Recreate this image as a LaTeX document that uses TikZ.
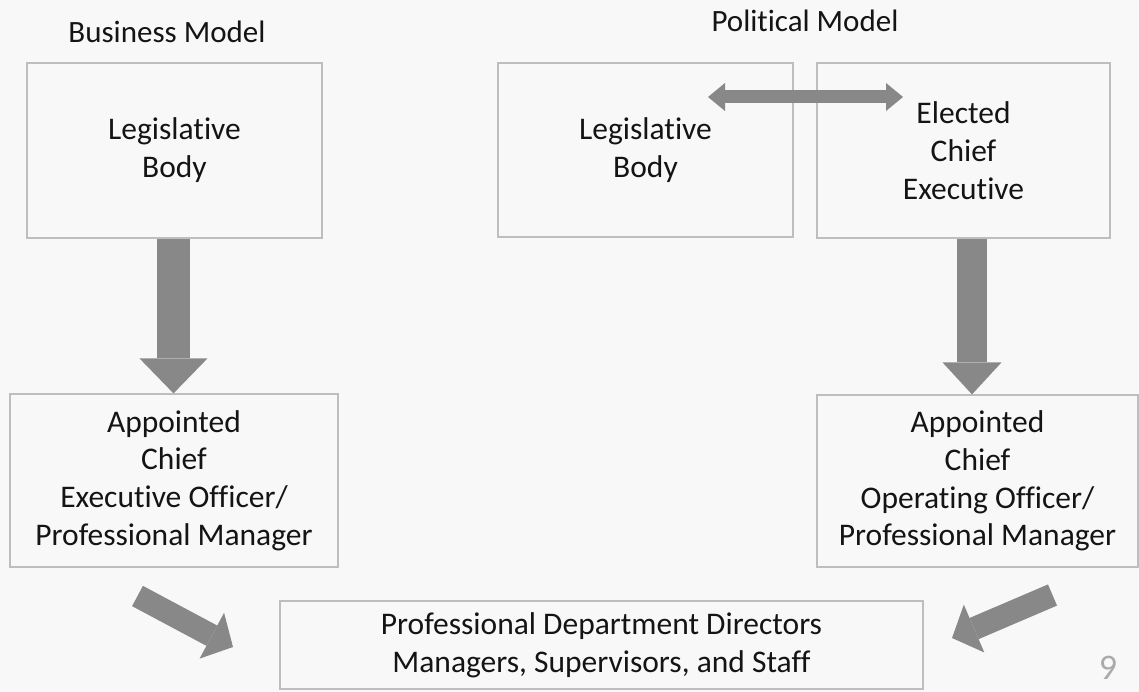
\documentclass[tikz,border=0pt]{standalone}
\usepackage{fontspec}
\setmainfont{Carlito}[Ligatures=NoCommon]
\usetikzlibrary{arrows.meta,calc}
\definecolor{bgc}{RGB}{248,248,248}
\definecolor{boxgray}{RGB}{190,190,190}
\definecolor{arrowgray}{RGB}{136,136,136}
\definecolor{txt}{RGB}{20,20,20}
\definecolor{pagenum}{RGB}{170,170,170}
\begin{document}
\begin{tikzpicture}[x=1pt,y=-1pt,
  box/.style={draw=boxgray,line width=1.2pt,rectangle,inner sep=0pt,align=center,
    text=txt,font=\fontsize{31.5}{37.8}\selectfont},
  titletext/.style={text=txt,font=\fontsize{31}{37.7}\selectfont,inner sep=0pt,anchor=base},
  bigdown/.style={draw=arrowgray,line width=#1},
  bigdown/.default=33pt,
  tipA/.style={-{Triangle[width=68pt,length=35pt,line width=0pt]}},
  tipB/.style={-{Triangle[width=59pt,length=32pt,line width=0pt]}},
  tipD/.style={-{Triangle[width=52pt,length=24pt,line width=0pt]}},
  twohead/.style={draw=arrowgray,line width=13pt,
    {Triangle[width=28pt,length=17pt,line width=0pt]}-{Triangle[width=28pt,length=17pt,line width=0pt]}}
]
\fill[bgc] (0,0) rectangle (1139,692);
\useasboundingbox (0,0) rectangle (1139,692);

% titles
\node[titletext] (tb) at (167,43) {Business Model};
\node[titletext] (tp) at (805,32) {Political Model};

% boxes
\node[box,minimum width=295pt,minimum height=175pt] (lb1) at (174.5,150.5) {Legislative\\Body};
\node[box,minimum width=328pt,minimum height=173pt] (ceo) at (174,480.5)
  {Appointed\\Chief\\Executive Officer/\\Professional Manager};
\node[box,minimum width=295pt,minimum height=174pt] (lb2) at (645.5,150) {Legislative\\Body};
\node[box,minimum width=293pt,minimum height=175pt] (ece) at (963.5,150.5) {Elected\\Chief\\Executive};
\node[box,minimum width=321pt,minimum height=172pt] (coo) at (977.5,481)
  {Appointed\\Chief\\Operating Officer/\\Professional Manager};
\node[box,minimum width=643pt,minimum height=88pt] (staff) at (601.5,645)
  {Professional Department Directors\\Managers, Supervisors, and Staff};

% page number
\node[text=pagenum,font=\fontsize{36}{36}\selectfont,inner sep=0pt] (pn) at (1108,668) {9};

% business down arrow
\coordinate (ba) at ([xshift=-1pt]lb1.south);
\draw[bigdown=33pt,tipA] (ba) -- (ba |- ceo.north);

% political down arrow
\coordinate (pa) at ([xshift=8.5pt]ece.south);
\draw[bigdown=30pt,tipB] (pa) -- (pa |- coo.north);

% double arrow between legislative body and elected chief executive
\coordinate (da1) at (708,97);
\coordinate (da2) at (903,97);
\draw[twohead] (da1) -- (da2);

% diagonal arrows to staff box
\coordinate (dl1) at (137.5,596);
\coordinate (dl2) at (233,647);
\draw[bigdown=23pt,tipD] (dl1) -- (dl2);
\coordinate (dr1) at (1052.5,595);
\coordinate (dr2) at (952,638);
\draw[bigdown=23pt,tipD] (dr1) -- (dr2);
\end{tikzpicture}
\end{document}
